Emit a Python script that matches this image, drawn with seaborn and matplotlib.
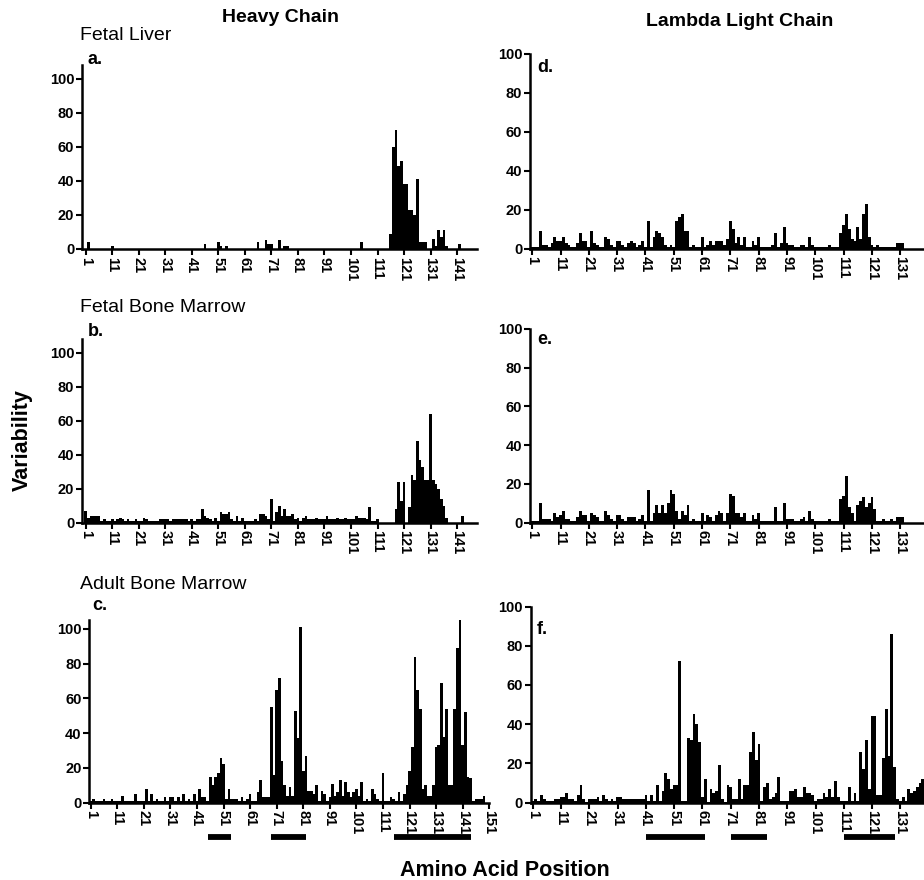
import numpy as np
import pandas as pd
import matplotlib.pyplot as plt
import matplotlib.transforms as mtransforms
import seaborn as sns

# Variability per amino acid position
heavy_fetal_liver = [
    0, 4, 0, 0, 0, 0, 0, 0, 0, 0,
    2, 0, 0, 0, 0, 0, 0, 0, 0, 0,
    0, 0, 0, 0, 0, 0, 0, 0, 0, 0,
    0, 0, 0, 0, 0, 0, 0, 0, 0, 0,
    0, 0, 0, 0, 0, 3, 0, 0, 0, 0,
    4, 2, 0, 2, 0, 0, 0, 0, 0, 0,
    0, 0, 0, 0, 0, 4, 0, 0, 5, 3,
    3, 0, 0, 5, 0, 2, 2, 0, 0, 0,
    0, 0, 0, 0, 0, 0, 0, 0, 0, 0,
    0, 0, 0, 0, 0, 0, 0, 0, 0, 0,
    0, 0, 0, 0, 4, 0, 0, 0, 0, 0,
    0, 0, 0, 0, 0, 9, 60, 70, 49, 52,
    38, 38, 23, 23, 20, 41, 4, 4, 4, 0,
    0, 6, 2, 11, 7, 11, 2, 0, 0, 0,
    0, 3, 0, 0, 0, 0, 0, 0, 0, 0,
]
heavy_fetal_bm = [
    7, 3, 4, 4, 4, 4, 1, 2, 1, 1,
    2, 1, 2, 3, 2, 1, 2, 1, 1, 2,
    1, 1, 3, 2, 1, 1, 1, 1, 2, 2,
    2, 2, 1, 2, 2, 2, 2, 2, 2, 1,
    2, 1, 2, 2, 8, 4, 3, 2, 1, 3,
    1, 6, 5, 5, 6, 2, 1, 4, 1, 3,
    1, 1, 1, 1, 2, 1, 5, 5, 4, 2,
    14, 1, 6, 10, 4, 8, 4, 4, 5, 2,
    3, 1, 3, 4, 2, 2, 2, 3, 2, 2,
    2, 4, 2, 2, 2, 3, 2, 2, 3, 2,
    2, 2, 4, 3, 3, 3, 2, 9, 1, 1,
    2, 0, 0, 0, 0, 0, 0, 8, 24, 13,
    24, 0, 9, 28, 25, 48, 37, 33, 25, 25,
    64, 25, 23, 20, 14, 10, 3, 0, 0, 0,
    0, 0, 4, 0, 0, 0, 0, 0, 0, 0,
]
heavy_adult_bm = [
    1, 2, 1, 1, 1, 2, 1, 1, 2, 1,
    1, 1, 4, 1, 1, 1, 1, 5, 1, 1,
    1, 8, 1, 5, 1, 2, 1, 1, 3, 1,
    3, 3, 1, 3, 1, 5, 1, 2, 1, 5,
    1, 8, 3, 3, 1, 15, 10, 15, 17, 26,
    22, 2, 8, 2, 2, 2, 1, 3, 1, 2,
    5, 1, 1, 6, 13, 3, 3, 3, 55, 16,
    65, 72, 24, 10, 4, 9, 4, 53, 37, 101,
    18, 27, 7, 7, 5, 10, 1, 7, 5, 1,
    3, 11, 4, 6, 13, 4, 12, 6, 3, 6,
    8, 4, 12, 1, 2, 1, 8, 5, 2, 1,
    17, 1, 1, 3, 2, 1, 6, 1, 5, 10,
    18, 32, 84, 65, 54, 8, 10, 4, 4, 10,
    32, 33, 69, 38, 54, 10, 10, 54, 89, 112,
    33, 52, 15, 14, 1, 2, 2, 2, 4, 0,
]
lambda_fetal_liver = [
    1, 1, 1, 9, 2, 2, 1, 3, 6, 4,
    4, 6, 3, 2, 1, 1, 3, 8, 4, 4,
    1, 9, 3, 2, 1, 1, 6, 5, 2, 1,
    4, 4, 2, 1, 3, 4, 3, 1, 2, 4,
    1, 14, 1, 6, 9, 8, 6, 2, 1, 2,
    1, 14, 16, 18, 9, 9, 1, 2, 1, 1,
    6, 1, 2, 4, 2, 4, 4, 4, 2, 5,
    14, 10, 3, 6, 2, 6, 1, 1, 4, 2,
    6, 1, 1, 1, 1, 2, 8, 1, 3, 11,
    3, 2, 2, 1, 1, 2, 2, 1, 6, 2,
    1, 1, 1, 1, 1, 2, 1, 1, 1, 8,
    12, 18, 10, 5, 4, 11, 5, 18, 23, 6,
    2, 1, 2, 1, 1, 1, 1, 1, 1, 3,
    3, 3, 0, 0, 0, 0, 0, 0, 0,
]
lambda_fetal_bm = [
    1, 1, 1, 10, 2, 2, 2, 1, 5, 3,
    4, 6, 2, 2, 1, 1, 3, 6, 4, 4,
    1, 5, 4, 3, 1, 1, 6, 4, 2, 1,
    4, 4, 2, 1, 3, 3, 3, 1, 2, 4,
    1, 17, 1, 5, 9, 5, 9, 5, 10, 17,
    15, 6, 2, 6, 4, 9, 1, 2, 1, 1,
    5, 1, 4, 3, 1, 4, 6, 5, 1, 5,
    15, 14, 5, 5, 3, 5, 1, 1, 4, 2,
    5, 1, 1, 1, 1, 1, 8, 1, 1, 10,
    2, 2, 2, 1, 1, 2, 3, 1, 6, 2,
    1, 1, 1, 1, 1, 2, 1, 1, 1, 12,
    14, 24, 8, 5, 1, 9, 11, 13, 8, 10,
    13, 7, 1, 1, 2, 1, 1, 2, 1, 3,
    3, 3, 0, 0, 0, 0, 0, 0, 0,
]
lambda_adult_bm = [
    1, 2, 1, 4, 2, 1, 1, 1, 2, 2,
    3, 3, 5, 2, 2, 1, 4, 9, 2, 0.5,
    2, 2, 2, 3, 1, 4, 2, 1, 2, 1,
    3, 3, 2, 2, 2, 2, 2, 2, 2, 2,
    4, 1, 4, 1, 9, 1, 6, 15, 12, 7,
    9, 9, 72, 1, 1, 33, 32, 45, 40, 31,
    3, 12, 0.5, 7, 5, 6, 19, 2, 0.5, 9,
    8, 2, 2, 12, 2, 9, 9, 26, 36, 22,
    30, 1, 8, 10, 2, 3, 5, 13, 1, 1,
    1, 6, 6, 7, 3, 3, 8, 5, 5, 4,
    1, 2, 2, 5, 3, 7, 3, 11, 3, 1,
    1, 1, 8, 1, 5, 1, 26, 17, 32, 7,
    44, 44, 4, 4, 23, 48, 24, 86, 18, 2,
    1, 3, 1, 7, 5, 6, 8, 10, 12,
]

# CDR bars drawn under the adult bone marrow panels (start, end positions)
cdr_heavy_start = [45, 69, 115]
cdr_heavy_end = [54, 82, 144]
cdr_lambda_start = [41, 71, 111]
cdr_lambda_end = [62, 84, 129]

row_titles = ["Fetal Liver", "Fetal Bone Marrow", "Adult Bone Marrow"]

sns.set_style("ticks")
plt.rcParams["font.family"] = ["Liberation Sans", "DejaVu Sans"]
plt.rcParams["font.weight"] = "bold"
for key in ["text.color", "axes.labelcolor", "xtick.color", "ytick.color", "axes.edgecolor"]:
    plt.rcParams[key] = "black"

W, H = 924, 880
fig = plt.figure(figsize=(W / 100, H / 100), dpi=100)


def box(left, right, top, bottom):
    return [left / W, 1 - bottom / H, (right - left) / W, (bottom - top) / H]


panels = [
    (heavy_fetal_liver, box(82, 477, 65.4, 249), (-0.4, 148.5), 108, range(1, 142, 10), "a.", (88, 59)),
    (heavy_fetal_bm, box(82, 477, 339, 522.7), (-0.4, 148.5), 108, range(1, 142, 10), "b.", (88, 331)),
    (heavy_adult_bm, box(89.3, 489.3, 620.3, 802.7), (0.5, 151), 105, range(1, 152, 10), "c.", (92, 605)),
    (lambda_fetal_liver, box(530, 924, 53.7, 248.7), (0.2, 139.4), 100, range(1, 132, 10), "d.", (537, 67)),
    (lambda_fetal_bm, box(530, 924, 328.7, 522.7), (0.2, 139.4), 100, range(1, 132, 10), "e.", (537, 339)),
    (lambda_adult_bm, box(530.7, 924, 606.5, 802.7), (0.2, 139.4), 100, range(1, 132, 10), "f.", (537, 629)),
]

axes = []
for values, rect, xlim, ytop, xticks, letter, (lx, ly) in panels:
    ax = fig.add_axes(rect)
    df = pd.DataFrame({"pos": np.arange(1, len(values) + 1), "var": values})
    sns.histplot(data=df, x="pos", weights="var", discrete=True, color="black",
                 alpha=1, linewidth=0, ax=ax)
    ax.set_xlim(*xlim)
    ax.set_ylim(0, ytop)
    ax.set_xticks(list(xticks))
    ax.set_yticks(range(0, 101, 20))
    ax.set_xlabel("")
    ax.set_ylabel("")
    sns.despine(ax=ax)
    for side in ["left", "bottom"]:
        ax.spines[side].set_linewidth(1.8)
    ax.tick_params(axis="both", direction="out", length=4, width=1.5, labelsize=10.5, pad=1.5)
    ax.tick_params(axis="x", labelrotation=270)
    fig.text(lx / W, 1 - ly / H, letter, fontsize=13, fontweight="bold", va="center", ha="left")
    axes.append(ax)

# row titles
for title, y in zip(row_titles, [36, 308, 584]):
    fig.text(80 / W, 1 - y / H, title, fontsize=14, fontweight="normal", va="center", ha="left")

# CDR bars
for ax, starts, ends in [(axes[2], cdr_heavy_start, cdr_heavy_end),
                         (axes[5], cdr_lambda_start, cdr_lambda_end)]:
    trans = mtransforms.blended_transform_factory(ax.transData, fig.transFigure)
    for s, e in zip(starts, ends):
        ax.plot([s, e], [1 - 837 / H, 1 - 837 / H], color="black", lw=4.2,
                solid_capstyle="butt", transform=trans, clip_on=False)

fig.text(281 / W, 1 - 17 / H, "Heavy Chain", fontsize=14, fontweight="bold", ha="center", va="center")
fig.text(740 / W, 1 - 22 / H, "Lambda Light Chain", fontsize=14, fontweight="bold", ha="center", va="center")
fig.text(22 / W, 1 - 440 / H, "Variability", fontsize=15.5, fontweight="bold", rotation=90, ha="center", va="center")
fig.text(505 / W, 1 - 870 / H, "Amino Acid Position", fontsize=15.5, fontweight="bold", ha="center", va="center")

plt.savefig("out.png", dpi=100)
plt.close()
